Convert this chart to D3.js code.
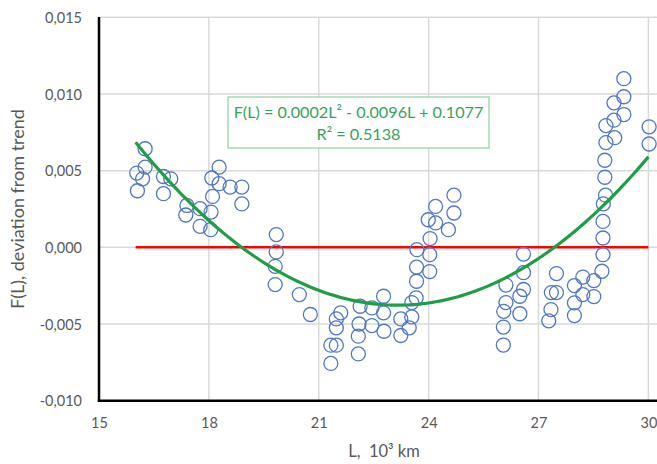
<!DOCTYPE html>
<html><head><meta charset="utf-8">
<script src="https://cdn.jsdelivr.net/npm/d3@7"></script>
<style>
body{margin:0;background:#fff;}
svg{display:block;}
text{font-family:Lato,"Open Sans",sans-serif;white-space:pre;}
</style></head>
<body><svg id="c" width="657" height="464"></svg>
<script>
// L values (10^3 km)
const lValues = [16.26,16.03,16.26,16.19,16.05,16.76,16.96,16.76,17.40,17.37,17.76,17.76,18.06,18.05,18.28,18.08,18.28,18.10,18.58,18.90,18.90,
 19.84,19.84,19.81,19.81,20.47,20.77,21.60,21.48,21.48,21.33,21.48,21.33,22.13,22.10,22.08,22.08,22.45,22.45,22.77,22.77,22.78,23.24,23.24,23.47,23.54,23.54,23.66,23.67,23.67,23.68,24.03,24.03,24.04,23.99,24.19,24.19,24.54,24.69,24.69,
 26.59,26.59,26.11,26.59,26.49,26.11,26.05,26.49,26.04,26.04,27.49,27.35,27.49,27.34,27.28,27.98,28.21,28.21,27.98,27.98,28.51,28.51,28.73,28.76,28.76,28.76,28.77,28.83,28.81,28.81,28.84,28.84,29.08,29.06,29.06,29.33,29.33,29.33,30.02,30.02];
// F(L), deviation from trend
const fValues = [0.00643,0.00484,0.00523,0.00447,0.00369,0.00462,0.00447,0.00350,0.00273,0.00211,0.00252,0.00137,0.00230,0.00115,0.00523,0.00452,0.00415,0.00332,0.00393,0.00393,0.00283,
 0.00083,-0.00030,-0.00124,-0.00243,-0.00308,-0.00438,-0.00427,-0.00467,-0.00525,-0.00638,-0.00638,-0.00757,-0.00384,-0.00500,-0.00579,-0.00695,-0.00395,-0.00510,-0.00319,-0.00427,-0.00547,-0.00467,-0.00575,-0.00525,-0.00454,-0.00360,-0.00329,-0.00221,-0.00129,-0.00015,-0.00158,-0.00048,0.00057,0.00180,0.00267,0.00159,0.00115,0.00224,0.00340,
 -0.00044,-0.00165,-0.00246,-0.00275,-0.00319,-0.00360,-0.00417,-0.00433,-0.00520,-0.00637,-0.00171,-0.00295,-0.00295,-0.00406,-0.00479,-0.00249,-0.00194,-0.00308,-0.00362,-0.00445,-0.00217,-0.00321,-0.00156,-0.00048,0.00061,0.00169,0.00284,0.00340,0.00457,0.00568,0.00683,0.00794,0.00715,0.00829,0.00942,0.00866,0.00982,0.01100,0.00786,0.00674];
// quadratic trend coefficients c0 + c1*L + c2*L^2
const trendCoef = [0.1073, -0.00959, 0.000207];
const trendRange = [16, 30];
const zeroLineRange = [16, 30];
const xTicks = [15,18,21,24,27,30];
const yTicks = [-0.010,-0.005,0,0.005,0.010,0.015];
const equationLines = ["F(L) = 0.0002L² - 0.0096L + 0.1077", "R² = 0.5138"];
const xTitle = "L,  10³ km";
const yTitle = "F(L), deviation from trend";

const svg = d3.select("#c");
const x = d3.scaleLinear().domain([15,30]).range([99,648.4]);
const y = d3.scaleLinear().domain([-0.010,0.015]).range([400.7,17.3]);
const fmt = v => d3.format(".3f")(v).replace(".",",").replace("−","-");

// gridlines
const g = svg.append("g");
g.selectAll(".hg").data(yTicks).join("line")
 .attr("x1",99).attr("x2",657).attr("y1",d=>y(d)).attr("y2",d=>y(d))
 .attr("stroke","#d9d9d9").attr("stroke-width",1.5);
g.selectAll(".vg").data(xTicks.slice(1)).join("line")
 .attr("x1",d=>x(d)).attr("x2",d=>x(d)).attr("y1",17).attr("y2",400.7)
 .attr("stroke","#d9d9d9").attr("stroke-width",1.5);

// axes
const xAxis = d3.axisBottom(x).tickValues(xTicks).tickSize(0).tickFormat(d3.format("d"));
const ax = svg.append("g").attr("transform","translate(0,400.7)").call(xAxis);
ax.select(".domain").remove();
ax.selectAll("text").attr("dy",null).attr("y",27).attr("font-size","14.5px").attr("fill","#595959");
const yAxis = d3.axisLeft(y).tickValues(yTicks).tickSize(0).tickFormat(fmt);
const ay = svg.append("g").attr("transform","translate(99,0)").call(yAxis);
ay.select(".domain").remove();
ay.selectAll("text").attr("x",-17).attr("dy","0.35em").attr("font-size","14.5px").attr("fill","#595959");

// red zero line
svg.append("line").attr("x1",x(zeroLineRange[0])).attr("x2",x(zeroLineRange[1]))
 .attr("y1",y(0)).attr("y2",y(0)).attr("stroke","#ff0000").attr("stroke-width",2.5);

// points
svg.append("g").selectAll("circle").data(lValues.map((l,i)=>[l,fValues[i]])).join("circle")
 .attr("cx",d=>x(d[0])).attr("cy",d=>y(d[1])).attr("r",7)
 .attr("fill","none").attr("stroke","#4f77c4").attr("stroke-width",1.3);

// trend curve
const trendPts = d3.range(trendRange[0], trendRange[1]+0.001, 0.1).map(L=>[L, trendCoef[0]+trendCoef[1]*L+trendCoef[2]*L*L]);
svg.append("path").datum(trendPts)
 .attr("d",d3.line().x(d=>x(d[0])).y(d=>y(d[1])).curve(d3.curveMonotoneX))
 .attr("fill","none").attr("stroke","#1f9e45").attr("stroke-width",3.2);

// axis lines
svg.append("line").attr("x1",99).attr("x2",99).attr("y1",17).attr("y2",401.7).attr("stroke","#000").attr("stroke-width",2.5);
svg.append("line").attr("x1",97.8).attr("x2",657).attr("y1",400.7).attr("y2",400.7).attr("stroke","#000").attr("stroke-width",2.5);

// equation box
svg.append("rect").attr("x",228).attr("y",97).attr("width",261).attr("height",51)
 .attr("fill","#fff").attr("stroke","#8ed1a4").attr("stroke-width",1.2);
svg.append("g").selectAll("text").data(equationLines).join("text")
 .attr("x",358.5).attr("y",(d,i)=>118+i*22).attr("text-anchor","middle")
 .attr("font-size","16.2px").attr("fill","#36a35c").text(d=>d);

// titles
svg.append("text").attr("x",384).attr("y",457).attr("text-anchor","middle")
 .attr("font-size","16.5px").attr("fill","#595959").text(xTitle);
svg.append("text").attr("transform","translate(24,209) rotate(-90)").attr("text-anchor","middle")
 .attr("font-size","18px").attr("fill","#595959").text(yTitle);
</script></body></html>
